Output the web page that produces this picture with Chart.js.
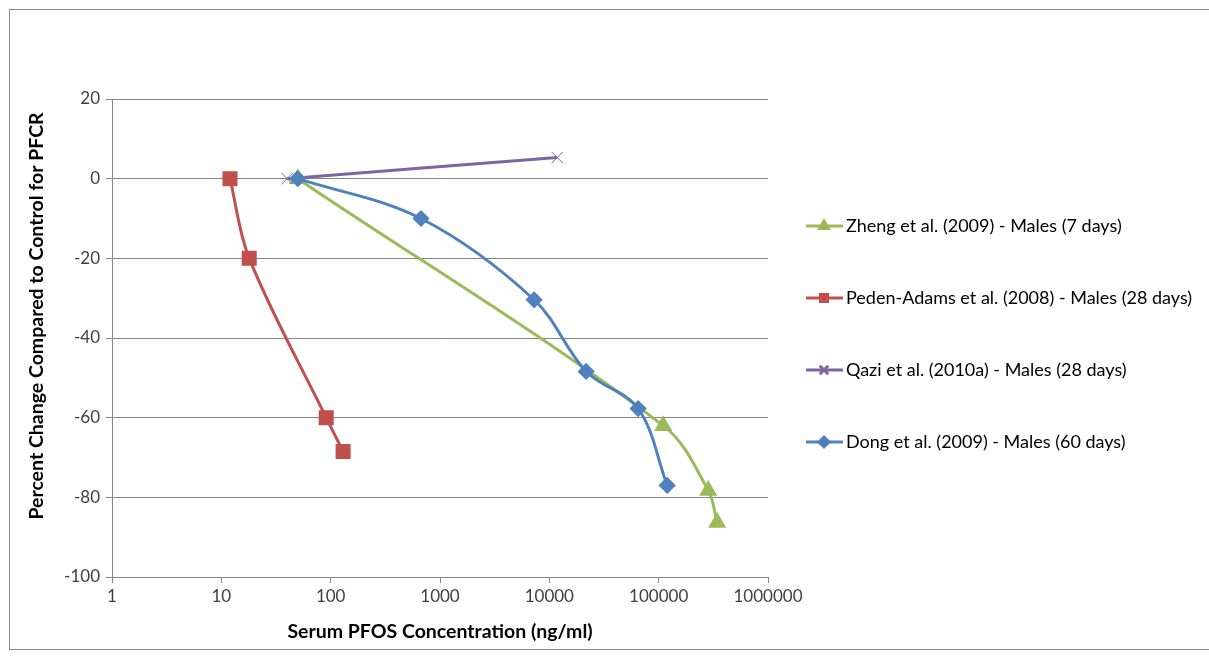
<!DOCTYPE html>
<html>
<head>
<meta charset="utf-8">
<script src="https://cdn.jsdelivr.net/npm/chart.js@4"></script>
<style>
  html, body { margin: 0; padding: 0; background: #fff; }
  #wrap { position: relative; width: 1209px; height: 657px; }
  #frame { position: absolute; left: 9px; top: 9px; width: 1215px; height: 641px; border: 1px solid #8c8c8c; box-sizing: border-box; }
  canvas { position: absolute; left: 0; top: 0; }
</style>
</head>
<body>
<div id="wrap">
  <div id="frame"></div>
  <canvas id="chart" width="1209" height="657"></canvas>
</div>
<script>
  // series (x = serum PFOS ng/ml, y = % change)
  const zhengX = [50, 110000, 284000, 343000];
  const zhengY = [0, -62, -78.3, -86.3];
  const pedenX = [12, 18, 91, 130];
  const pedenY = [0, -20, -60, -68.5];
  const qaziX = [40, 11800];
  const qaziY = [0, 5.3];
  const dongX = [50, 670, 7260, 21700, 64900, 119700];
  const dongY = [0, -10, -30.4, -48.4, -57.7, -77];

  const seriesNames = [
    "Zheng et al. (2009) - Males (7 days)",
    "Peden-Adams et al. (2008) - Males (28 days)",
    "Qazi et al. (2010a) - Males (28 days)",
    "Dong et al. (2009) - Males (60 days)",
  ];
  const xTicks = [1, 10, 100, 1000, 10000, 100000, 1000000];
  const yTitle = "Percent Change Compared to Control for PFCR";
  const xTitle = "Serum PFOS Concentration (ng/ml)";

  const FONT = "Lato, 'Open Sans', sans-serif";

  function pts(xs, ys) {
    return xs.map((x, i) => ({ x, y: ys[i] }));
  }

  const datasets = [
    {
      label: seriesNames[0], data: pts(zhengX, zhengY),
      borderColor: "#9bbb59", backgroundColor: "#9bbb59",
      borderWidth: 3, pointStyle: "triangle", pointRadius: 7.5, order: 4,
    },
    {
      label: seriesNames[1], data: pts(pedenX, pedenY),
      borderColor: "#c0504d", backgroundColor: "#c0504d",
      borderWidth: 3, pointStyle: "rect", pointRadius: 8.5, order: 3,
    },
    {
      label: seriesNames[2], data: pts(qaziX, qaziY),
      borderColor: "#8064a2", backgroundColor: "#8064a2",
      borderWidth: 3, pointStyle: "cross", pointRadius: 8, rotation: 45,
      pointBorderWidth: 1, order: 2,
    },
    {
      label: seriesNames[3], data: pts(dongX, dongY),
      borderColor: "#4f81bd", backgroundColor: "#4f81bd",
      borderWidth: 3, pointStyle: "rectRot", pointRadius: 6.5, order: 1,
    },
  ];

  // legend at the right (line + marker) and the y title, placed like the original
  const sideLegend = {
    id: "sideLegend",
    afterDraw(chart) {
      const ctx = chart.ctx;
      const rows = [226, 298, 370, 442];
      ctx.save();
      datasets.forEach((ds, i) => {
        const y = rows[i];
        ctx.strokeStyle = ds.borderColor;
        ctx.fillStyle = ds.backgroundColor;
        ctx.lineWidth = 3;
        ctx.beginPath();
        ctx.moveTo(806, y);
        ctx.lineTo(843, y);
        ctx.stroke();
        Chart.helpers.drawPoint(ctx, {
          pointStyle: ds.pointStyle,
          radius: ds.pointStyle === "cross" ? 6 : 5,
          rotation: ds.rotation || 0,
          borderWidth: 1,
        }, 824, y);
        ctx.fillStyle = "#000";
        ctx.font = "18px " + FONT;
        ctx.textBaseline = "middle";
        ctx.textAlign = "left";
        ctx.fillText(ds.label, 846, y);
      });

      ctx.translate(37, 316);
      ctx.rotate(-Math.PI / 2);
      ctx.font = "bold 19.5px " + FONT;
      ctx.textAlign = "center";
      ctx.fillText(yTitle, 0, 0);
      ctx.restore();
    },
  };

  new Chart(document.getElementById("chart"), {
    type: "line",
    data: { datasets },
    plugins: [sideLegend],
    options: {
      responsive: false,
      animation: false,
      layout: { padding: { top: 99, right: 441, bottom: 0, left: 0 } },
      elements: { line: { tension: 0.35 } },
      plugins: { legend: { display: false }, tooltip: { enabled: false } },
      scales: {
        x: {
          type: "logarithmic",
          min: 1,
          max: 1000000,
          afterBuildTicks: (scale) => {
            scale.ticks = xTicks.map((v) => ({ value: v }));
          },
          afterFit: (scale) => { scale.height = 80; },
          ticks: {
            autoSkip: false,
            maxRotation: 0,
            color: "#404040",
            font: { family: FONT, size: 17 },
            padding: 3,
            callback: (v) => String(v),
          },
          grid: { drawOnChartArea: false, drawTicks: true, tickLength: 6, color: "#868686" },
          border: { color: "#868686" },
          title: {
            display: true,
            text: xTitle,
            color: "#000",
            font: { family: FONT, size: 19.5, weight: "bold" },
            padding: { top: 0, bottom: 14 },
          },
        },
        y: {
          min: -100,
          max: 20,
          ticks: {
            stepSize: 20,
            color: "#404040",
            font: { family: FONT, size: 17 },
            padding: 6,
          },
          afterFit: (scale) => { scale.width = 112; },
          grid: { color: "#868686", tickLength: 6 },
          border: { color: "#868686" },
        },
      },
    },
  });
</script>
</body>
</html>
